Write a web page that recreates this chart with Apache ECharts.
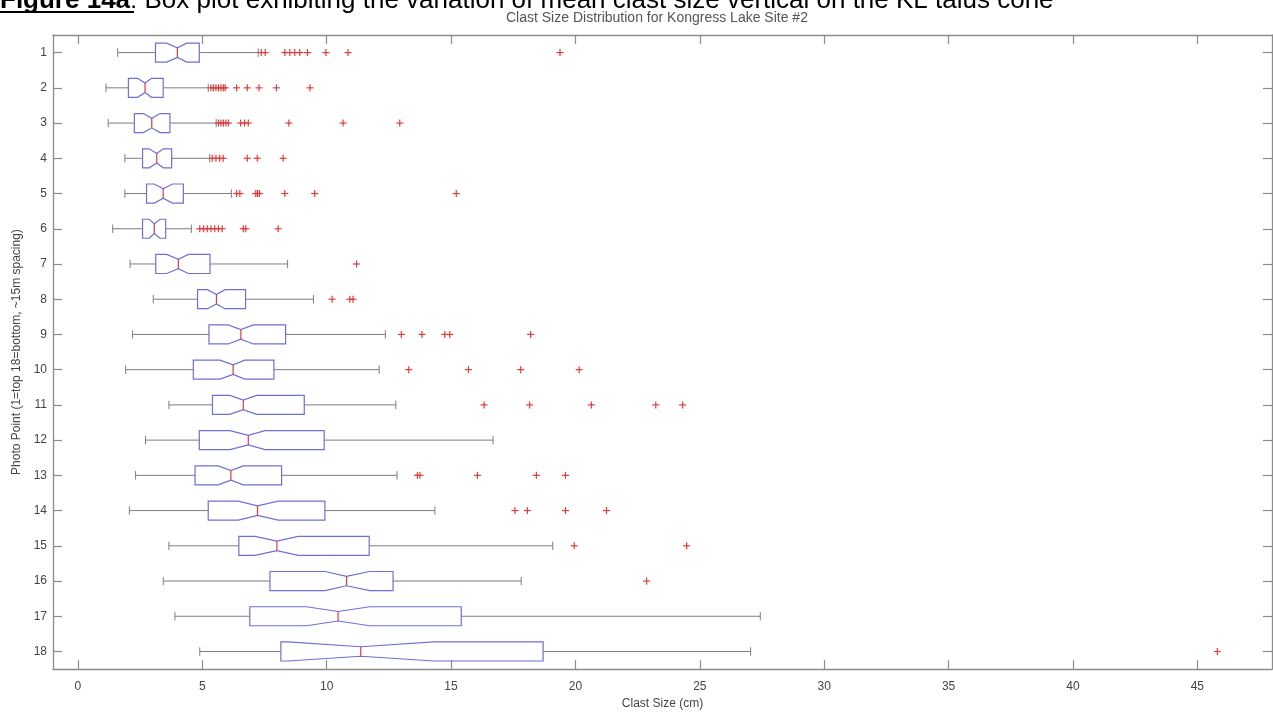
<!DOCTYPE html>
<html>
<head>
<meta charset="utf-8">
<title>Clast Size Distribution for Kongress Lake Site #2</title>
<script src="https://cdn.jsdelivr.net/npm/echarts@6/dist/echarts.min.js"></script>
<style>
  html, body { margin: 0; padding: 0; background: #fff; }
  #chart { width: 1273px; height: 715px; }
</style>
</head>
<body>
<div id="chart"></div>
<script>
// photo points, 1 = top of the talus cone, 18 = bottom
const categories = ['1', '2', '3', '4', '5', '6', '7', '8', '9', '10', '11', '12', '13', '14', '15', '16', '17', '18']
const xTicks = [0, 5, 10, 15, 20, 25, 30, 35, 40, 45]

// box plot stats (cm)
const whiskerLow = [1.6, 1.13, 1.22, 1.89, 1.89, 1.4, 2.1, 3.03, 2.2, 1.92, 3.66, 2.72, 2.32, 2.07, 3.66, 3.43, 3.9, 4.9]
const q1 = [3.12, 2.03, 2.27, 2.6, 2.76, 2.6, 3.13, 4.81, 5.27, 4.64, 5.41, 4.88, 4.71, 5.24, 6.47, 7.72, 6.91, 8.16]
const median = [4.0, 2.7, 2.97, 3.17, 3.43, 3.07, 4.04, 5.57, 6.55, 6.24, 6.65, 6.85, 6.15, 7.22, 8.0, 10.8, 10.46, 11.37]
const q3 = [4.88, 3.43, 3.7, 3.77, 4.24, 3.53, 5.31, 6.74, 8.35, 7.88, 9.1, 9.9, 8.19, 9.93, 11.71, 12.67, 15.41, 18.7]
const whiskerHigh = [7.25, 5.24, 5.56, 5.3, 6.17, 4.56, 8.43, 9.47, 12.36, 12.11, 12.78, 16.69, 12.83, 14.35, 19.09, 17.82, 27.43, 27.04]
const notchLow = [3.57, 2.4, 2.63, 2.87, 3.07, 2.87, 3.57, 5.21, 6.04, 5.71, 6.11, 6.11, 5.64, 6.45, 7.12, 9.93, 9.19, 8.44]
const notchHigh = [4.37, 2.96, 3.3, 3.43, 3.8, 3.3, 4.44, 5.91, 7.05, 6.71, 7.18, 7.52, 6.65, 8.05, 8.86, 11.73, 11.73, 14.3]

// outliers per photo point
const outliers = [
  [7.37, 7.53, 8.32, 8.52, 8.72, 8.92, 9.23, 9.97, 10.86, 19.38],
  [5.35, 5.45, 5.55, 5.65, 5.75, 5.85, 5.92, 6.38, 6.81, 7.28, 7.98, 9.33],
  [5.65, 5.75, 5.85, 5.95, 6.05, 6.54, 6.7, 6.85, 8.48, 10.66, 12.94],
  [5.4, 5.55, 5.7, 5.84, 6.81, 7.21, 8.25],
  [6.38, 6.51, 7.15, 7.22, 7.3, 8.32, 9.52, 15.21],
  [4.9, 5.05, 5.2, 5.35, 5.5, 5.65, 5.8, 6.65, 6.75, 8.05],
  [11.2],
  [10.22, 10.93, 11.06],
  [13.0, 13.83, 14.75, 14.95, 18.2],
  [13.3, 15.7, 17.8, 20.15],
  [16.33, 18.16, 20.64, 23.23, 24.31],
  [],
  [13.65, 13.75, 16.06, 18.43, 19.6],
  [17.57, 18.07, 19.6, 21.25],
  [19.95, 24.47],
  [22.86],
  [],
  [45.8]
]

const chart = echarts.init(document.getElementById('chart'))

const boxColor = '#6f6fd6'
const whiskerColor = '#7d7d7d'
const outlierColor = '#e23b3b'
const frameColor = '#8c8c8c'
const font = 'Liberation Sans'

const boxData = categories.map((c, i) => [i, whiskerLow[i], q1[i], median[i], q3[i], whiskerHigh[i], notchLow[i], notchHigh[i]])
const outlierData = []
outliers.forEach((list, i) => list.forEach(v => outlierData.push([v, i])))

function renderBox(params, api) {
  const row = api.value(0)
  const px = v => api.coord([v, row])[0]
  const y = api.coord([0, row])[1]
  const band = Math.abs(api.coord([0, 1])[1] - api.coord([0, 0])[1])
  const h = band * 0.27
  const n = h * 0.5
  const cap = band * 0.125
  const wl = px(api.value(1)), b1 = px(api.value(2)), md = px(api.value(3))
  const b3 = px(api.value(4)), wh = px(api.value(5))
  const nl = px(api.value(6)), nh = px(api.value(7))
  const wStyle = { stroke: whiskerColor, lineWidth: 1 }
  return {
    type: 'group',
    children: [
      { type: 'line', shape: { x1: wl, y1: y, x2: b1, y2: y }, style: wStyle },
      { type: 'line', shape: { x1: b3, y1: y, x2: wh, y2: y }, style: wStyle },
      { type: 'line', shape: { x1: wl, y1: y - cap / 2 - 2, x2: wl, y2: y + cap / 2 + 2 }, style: wStyle },
      { type: 'line', shape: { x1: wh, y1: y - cap / 2 - 2, x2: wh, y2: y + cap / 2 + 2 }, style: wStyle },
      {
        type: 'polygon',
        shape: {
          points: [
            [b1, y - h], [nl, y - h], [md, y - h + n], [nh, y - h], [b3, y - h],
            [b3, y + h], [nh, y + h], [md, y + h - n], [nl, y + h], [b1, y + h]
          ]
        },
        style: { fill: 'none', stroke: boxColor, lineWidth: 1.2 }
      },
      { type: 'line', shape: { x1: md, y1: y - h + n, x2: md, y2: y + h - n }, style: { stroke: outlierColor, lineWidth: 1.2 } }
    ]
  }
}

function renderOutlier(params, api) {
  const p = api.coord([api.value(0), api.value(1)])
  const s = 3.5
  const st = { stroke: outlierColor, lineWidth: 1.2 }
  return {
    type: 'group',
    children: [
      { type: 'line', shape: { x1: p[0] - s, y1: p[1], x2: p[0] + s, y2: p[1] }, style: st },
      { type: 'line', shape: { x1: p[0], y1: p[1] - s, x2: p[0], y2: p[1] + s }, style: st }
    ]
  }
}

const axisLine = { show: true, onZero: false, lineStyle: { color: frameColor, width: 1.3 } }
const xTick = { show: true, inside: true, length: 9, customValues: xTicks, lineStyle: { color: frameColor, width: 1.2 } }
const yTick = { show: true, inside: true, length: 9, alignWithLabel: true, lineStyle: { color: frameColor, width: 1.2 } }

const option = {
  animation: false,
  backgroundColor: '#fff',
  title: {
    text: 'Clast Size Distribution for Kongress Lake Site #2',
    left: 506,
    top: 11,
    padding: 0,
    textStyle: { fontFamily: font, fontSize: 14, fontWeight: 'normal', color: '#555' }
  },
  graphic: [
    {
      type: 'text',
      left: 0,
      top: -12,
      style: {
        text: '{b|Figure 14a}{r|: Box plot exhibiting the variation of mean clast size vertical on the KL talus cone}',
        rich: {
          b: { fontFamily: font, fontSize: 26, fontWeight: 'bold', fill: '#000' },
          r: { fontFamily: font, fontSize: 26, fill: '#000' }
        }
      }
    },
    { type: 'rect', left: 0, top: 11, shape: { width: 134, height: 2 }, style: { fill: '#000' } }
  ],
  grid: { left: 53, right: 1, top: 35, bottom: 42 },
  xAxis: [
    {
      type: 'value',
      min: -1,
      max: 48,
      position: 'bottom',
      name: 'Clast Size (cm)',
      nameLocation: 'middle',
      nameGap: 27,
      nameTextStyle: { fontFamily: font, fontSize: 12, color: '#444' },
      axisLine: axisLine,
      axisTick: xTick,
      axisLabel: { customValues: xTicks, margin: 12, fontFamily: font, fontSize: 12, color: '#444' },
      splitLine: { show: false }
    },
    {
      type: 'value',
      min: -1,
      max: 48,
      position: 'top',
      axisLine: axisLine,
      axisTick: xTick,
      axisLabel: { show: false },
      splitLine: { show: false }
    }
  ],
  yAxis: [
    {
      type: 'category',
      data: categories,
      inverse: true,
      position: 'left',
      name: 'Photo Point (1=top 18=bottom, ~15m spacing)',
      nameLocation: 'middle',
      nameGap: 27,
      nameTextStyle: { fontFamily: font, fontSize: 12, color: '#444' },
      axisLine: axisLine,
      axisTick: yTick,
      axisLabel: { margin: 6, fontFamily: font, fontSize: 12, color: '#444' },
      splitLine: { show: false }
    },
    {
      type: 'category',
      data: categories,
      inverse: true,
      position: 'right',
      axisLine: axisLine,
      axisTick: yTick,
      axisLabel: { show: false },
      splitLine: { show: false }
    }
  ],
  series: [
    {
      type: 'custom',
      name: 'boxes',
      xAxisIndex: 0,
      yAxisIndex: 0,
      renderItem: renderBox,
      encode: { x: [1, 2, 3, 4, 5, 6, 7], y: 0 },
      data: boxData
    },
    {
      type: 'custom',
      name: 'outliers',
      xAxisIndex: 0,
      yAxisIndex: 0,
      renderItem: renderOutlier,
      encode: { x: 0, y: 1 },
      data: outlierData
    }
  ]
}

chart.setOption(option)
</script>
</body>
</html>
